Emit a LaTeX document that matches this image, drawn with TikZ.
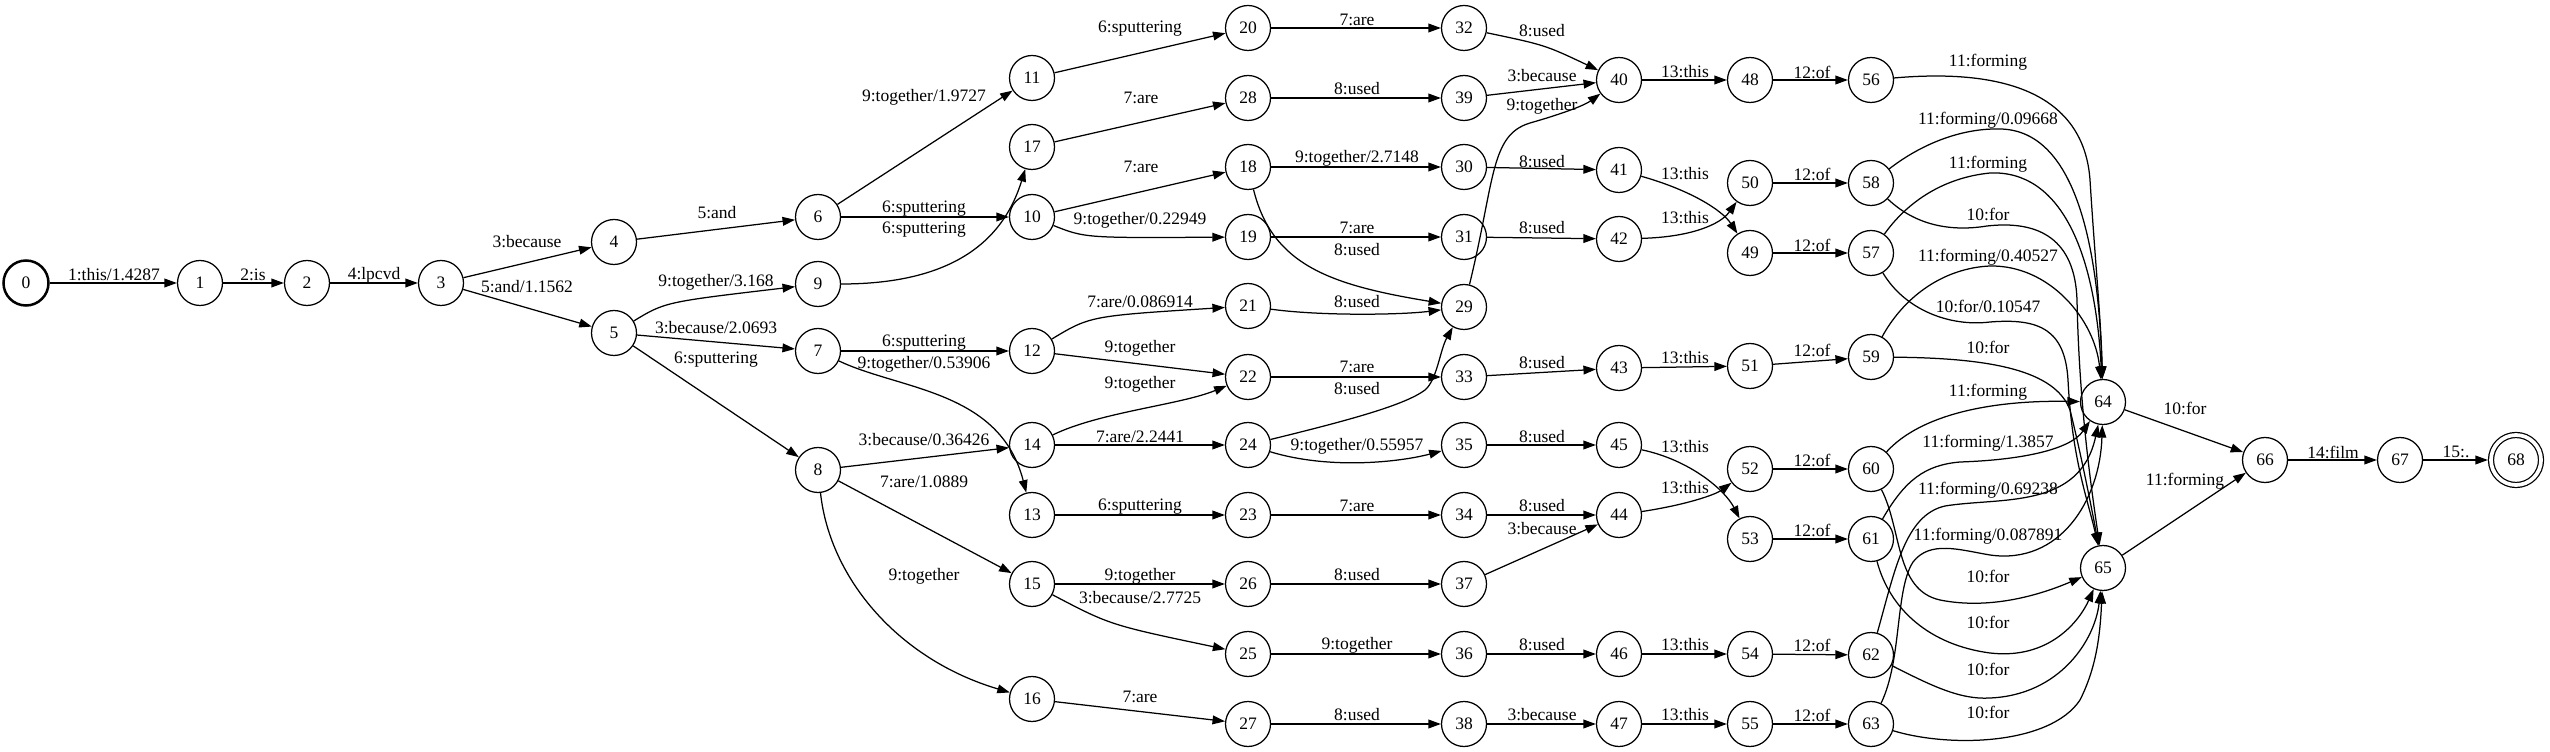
\documentclass[tikz,border=0pt]{standalone}
\usepackage{fontspec}
\setmainfont{Liberation Serif}
\usetikzlibrary{arrows.meta}
\begin{document}
\begin{tikzpicture}[x=0.8pt,y=-0.8pt,
  st/.style={circle,draw,line width=1pt,minimum size=36pt,inner sep=0pt,font=\fontsize{14}{16}\selectfont},
  lbl/.style={inner sep=0pt,font=\fontsize{14}{16}\selectfont},
  arr/.style={line width=1pt,-{Triangle[length=10pt,width=7pt]}}]
\useasboundingbox (0,0) rectangle (2550,752);
% states
\node[st,line width=2pt] (n0) at (26,283) {0};
\node[st] (n1) at (200,283) {1};
\node[st] (n2) at (307,283) {2};
\node[st] (n3) at (441,283) {3};
\node[st] (n4) at (614,242) {4};
\node[st] (n5) at (614,333) {5};
\node[st] (n6) at (818,217) {6};
\node[st] (n9) at (818,284) {9};
\node[st] (n7) at (818,351) {7};
\node[st] (n8) at (818,470) {8};
\node[st] (n11) at (1032,78) {11};
\node[st] (n17) at (1032,147) {17};
\node[st] (n10) at (1032,217) {10};
\node[st] (n12) at (1032,351) {12};
\node[st] (n14) at (1032,445) {14};
\node[st] (n13) at (1032,515) {13};
\node[st] (n15) at (1032,584) {15};
\node[st] (n16) at (1032,699) {16};
\node[st] (n20) at (1248,28) {20};
\node[st] (n28) at (1248,98) {28};
\node[st] (n18) at (1248,167) {18};
\node[st] (n19) at (1248,237) {19};
\node[st] (n21) at (1248,306) {21};
\node[st] (n22) at (1248,377) {22};
\node[st] (n24) at (1248,445) {24};
\node[st] (n23) at (1248,515) {23};
\node[st] (n26) at (1248,584) {26};
\node[st] (n25) at (1248,654) {25};
\node[st] (n27) at (1248,724) {27};
\node[st] (n32) at (1464,28) {32};
\node[st] (n39) at (1464,98) {39};
\node[st] (n30) at (1464,167) {30};
\node[st] (n31) at (1464,237) {31};
\node[st] (n29) at (1464,307) {29};
\node[st] (n33) at (1464,377) {33};
\node[st] (n35) at (1464,445) {35};
\node[st] (n34) at (1464,515) {34};
\node[st] (n37) at (1464,584) {37};
\node[st] (n36) at (1464,654) {36};
\node[st] (n38) at (1464,724) {38};
\node[st] (n40) at (1619,80) {40};
\node[st] (n41) at (1619,170) {41};
\node[st] (n42) at (1619,239) {42};
\node[st] (n43) at (1619,368) {43};
\node[st] (n45) at (1619,445) {45};
\node[st] (n44) at (1619,515) {44};
\node[st] (n46) at (1619,654) {46};
\node[st] (n47) at (1619,724) {47};
\node[st] (n48) at (1750,80) {48};
\node[st] (n50) at (1750,183) {50};
\node[st] (n49) at (1750,253) {49};
\node[st] (n51) at (1750,366) {51};
\node[st] (n52) at (1750,469) {52};
\node[st] (n53) at (1750,539) {53};
\node[st] (n54) at (1750,654) {54};
\node[st] (n55) at (1750,724) {55};
\node[st] (n56) at (1871,80) {56};
\node[st] (n58) at (1871,183) {58};
\node[st] (n57) at (1871,253) {57};
\node[st] (n59) at (1871,357) {59};
\node[st] (n60) at (1871,469) {60};
\node[st] (n61) at (1871,539) {61};
\node[st] (n62) at (1871,655) {62};
\node[st] (n63) at (1871,724) {63};
\node[st] (n64) at (2103,402) {64};
\node[st] (n65) at (2103,568) {65};
\node[st] (n66) at (2265,460) {66};
\node[st] (n67) at (2400,460) {67};
\node[st,minimum size=40pt,double,double distance=3pt,outer sep=2.5pt] (n68) at (2516,460) {68};
% straight arcs
\foreach \a/\b in {0/1,1/2,2/3,3/4,3/5,4/6,5/7,5/8,6/11,6/10,10/18,11/20,17/28,7/12,12/22,8/14,8/15,14/24,13/23,15/26,16/27,
  20/32,28/39,18/30,19/31,22/33,23/34,26/37,25/36,27/38,
  39/40,30/41,31/42,33/43,35/45,34/44,37/44,36/46,38/47,
  40/48,43/51,46/54,47/55,48/56,50/58,49/57,51/59,52/60,53/61,54/62,55/63,
  64/66,65/66,66/67,67/68}
  {\draw[arr] (n\a) -- (n\b);}
% curved arcs
\draw[arr] (n5) .. controls (665,302) .. (n9);
\draw[arr] (n9) .. controls (960,284) and (1005,235) .. (n17);
\draw[arr] (n10) .. controls (1085,238) .. (n19);
\draw[arr] (n7) .. controls (900,390) and (1000,390) .. (n13);
\draw[arr] (n12) .. controls (1090,316) .. (n21);
\draw[arr] (n8) .. controls (830,580) and (900,660) .. (n16);
\draw[arr] (n14) .. controls (1100,412) and (1180,405) .. (n22);
\draw[arr] (n15) .. controls (1110,625) .. (n25);
\draw[arr] (n18) .. controls (1272,265) and (1330,285) .. (n29);
\draw[arr] (n21) .. controls (1320,316) and (1400,315) .. (n29);
\draw[arr] (n24) .. controls (1350,420) and (1405,405) .. (1425,390) .. controls (1437,380) and (1440,350) .. (n29);
\draw[arr] (n24) .. controls (1330,470) and (1400,462) .. (n35);
\draw[arr] (n32) .. controls (1545,45) .. (n40);
\draw[arr] (n29) .. controls (1495,180) and (1490,135) .. (1530,123) .. controls (1565,113) and (1585,105) .. (n40);
\draw[arr] (n41) .. controls (1690,190) and (1722,210) .. (n49);
\draw[arr] (n42) .. controls (1690,237) and (1720,225) .. (n50);
\draw[arr] (n45) .. controls (1690,460) and (1725,490) .. (n53);
\draw[arr] (n44) .. controls (1685,505) and (1715,495) .. (n52);
\draw[arr] (n56) .. controls (2030,66) and (2085,110) .. (2090,180) .. controls (2095,260) and (2101,320) .. (n64);
\draw[arr] (n58) .. controls (1920,145) and (1960,128) .. (2000,129) .. controls (2070,130) and (2098,230) .. (n64);
\draw[arr] (n57) .. controls (1905,205) and (1940,178) .. (1990,173) .. controls (2060,170) and (2095,250) .. (n64);
\draw[arr] (n58) .. controls (1915,225) and (1950,232) .. (1987,226) .. controls (2040,220) and (2075,240) .. (2077,300) .. controls (2079,400) and (2090,480) .. (n65);
\draw[arr] (n59) .. controls (1905,295) and (1945,268) .. (1990,266) .. controls (2050,265) and (2095,320) .. (n64);
\draw[arr] (n57) .. controls (1905,310) and (1950,327) .. (1990,322) .. controls (2040,318) and (2065,330) .. (2068,380) .. controls (2072,460) and (2088,500) .. (n65);
\draw[arr] (n59) .. controls (1990,358) and (2055,370) .. (2070,410) .. controls (2080,450) and (2090,500) .. (n65);
\draw[arr] (n60) .. controls (1920,415) and (1990,400) .. (n64);
\draw[arr] (n61) .. controls (1905,480) and (1925,465) .. (1960,462) .. controls (2020,460) and (2070,450) .. (n64);
\draw[arr] (n62) .. controls (1895,570) and (1905,515) .. (1945,506) .. controls (2000,497) and (2080,510) .. (n64);
\draw[arr] (n63) .. controls (1902,660) and (1895,590) .. (1913,562) .. controls (1930,540) and (1960,550) .. (1990,555) .. controls (2060,565) and (2100,500) .. (n64);
\draw[arr] (n60) .. controls (1902,530) and (1895,590) .. (1940,600) .. controls (1990,610) and (2040,595) .. (n65);
\draw[arr] (n61) .. controls (1890,610) and (1930,645) .. (1990,653) .. controls (2050,660) and (2080,620) .. (n65);
\draw[arr] (n62) .. controls (1930,685) and (1960,700) .. (1990,698) .. controls (2060,695) and (2095,640) .. (n65);
\draw[arr] (n63) .. controls (1950,748) and (2050,745) .. (2080,700) .. controls (2095,670) and (2100,640) .. (n65);
% labels
\node[lbl] (a1) at (114,275) {1:this/1.4287};
\node[lbl] (a2) at (253,275) {2:is};
\node[lbl] (a3) at (374,275) {4:lpcvd};
\node[lbl] (a4) at (527,242) {3:because};
\node[lbl] (a5) at (527,287) {5:and/1.1562};
\node[lbl] (a6) at (717,213) {5:and};
\node[lbl] (a7) at (716,282) {9:together/3.168};
\node[lbl] (a8) at (716,328) {3:because/2.0693};
\node[lbl] (a9) at (716,360) {6:sputtering};
\node[lbl] (b1) at (924,97) {9:together/1.9727};
\node[lbl] (b2) at (924,209) {6:sputtering};
\node[lbl] (b3) at (924,230) {6:sputtering};
\node[lbl] (b4) at (924,343) {6:sputtering};
\node[lbl] (b5) at (924,364) {9:together/0.53906};
\node[lbl] (b6) at (924,440) {3:because/0.36426};
\node[lbl] (b7) at (924,482) {7:are/1.0889};
\node[lbl] (b8) at (924,576) {9:together};
\node[lbl] (c1) at (1140,29) {6:sputtering};
\node[lbl] (c2) at (1141,98) {7:are};
\node[lbl] (c3) at (1141,167) {7:are};
\node[lbl] (c4) at (1140,220) {9:together/0.22949};
\node[lbl] (c5) at (1140,302) {7:are/0.086914};
\node[lbl] (c6) at (1140,348) {9:together};
\node[lbl] (c7) at (1140,384) {9:together};
\node[lbl] (c8) at (1140,437) {7:are/2.2441};
\node[lbl] (c9) at (1140,507) {6:sputtering};
\node[lbl] (c10) at (1140,576) {9:together};
\node[lbl] (c11) at (1140,598) {3:because/2.7725};
\node[lbl] (c12) at (1140,697) {7:are};
\node[lbl] (d1) at (1357,20) {7:are};
\node[lbl] (d2) at (1357,89) {8:used};
\node[lbl] (d3) at (1357,158) {9:together/2.7148};
\node[lbl] (d4) at (1357,228) {7:are};
\node[lbl] (d5) at (1357,250) {8:used};
\node[lbl] (d6) at (1357,302) {8:used};
\node[lbl] (d7) at (1357,367) {7:are};
\node[lbl] (d8) at (1357,389) {8:used};
\node[lbl] (d9) at (1357,446) {9:together/0.55957};
\node[lbl] (d10) at (1357,506) {7:are};
\node[lbl] (d11) at (1357,575) {8:used};
\node[lbl] (d12) at (1357,645) {9:together};
\node[lbl] (d13) at (1357,715) {8:used};
\node[lbl] (e1) at (1542,31) {8:used};
\node[lbl] (e2) at (1542,76) {3:because};
\node[lbl] (e3) at (1542,106) {9:together};
\node[lbl] (e4) at (1542,162) {8:used};
\node[lbl] (e5) at (1542,228) {8:used};
\node[lbl] (e6) at (1542,363) {8:used};
\node[lbl] (e7) at (1542,437) {8:used};
\node[lbl] (e8) at (1542,506) {8:used};
\node[lbl] (e9) at (1542,529) {3:because};
\node[lbl] (e10) at (1542,645) {8:used};
\node[lbl] (e11) at (1542,715) {3:because};
\node[lbl] (f1) at (1685,72) {13:this};
\node[lbl] (f2) at (1685,174) {13:this};
\node[lbl] (f3) at (1685,218) {13:this};
\node[lbl] (f4) at (1685,358) {13:this};
\node[lbl] (f5) at (1685,447) {13:this};
\node[lbl] (f6) at (1685,488) {13:this};
\node[lbl] (f7) at (1685,645) {13:this};
\node[lbl] (f8) at (1685,715) {13:this};
\node[lbl] (g1) at (1812,72) {12:of};
\node[lbl] (g2) at (1812,174) {12:of};
\node[lbl] (g3) at (1812,245) {12:of};
\node[lbl] (g4) at (1812,350) {12:of};
\node[lbl] (g5) at (1812,460) {12:of};
\node[lbl] (g6) at (1812,530) {12:of};
\node[lbl] (g7) at (1812,645) {12:of};
\node[lbl] (g8) at (1812,715) {12:of};
\node[lbl] (h1) at (1988,62) {11:forming};
\node[lbl] (h2) at (1988,120) {11:forming/0.09668};
\node[lbl] (h3) at (1988,164) {11:forming};
\node[lbl] (h4) at (1988,214) {10:for};
\node[lbl] (h5) at (1988,257) {11:forming/0.40527};
\node[lbl] (h6) at (1988,306) {10:for/0.10547};
\node[lbl] (h7) at (1988,347) {10:for};
\node[lbl] (h8) at (1988,392) {11:forming};
\node[lbl] (h9) at (1988,443) {11:forming/1.3857};
\node[lbl] (h10) at (1988,490) {11:forming/0.69238};
\node[lbl] (h11) at (1988,536) {11:forming/0.087891};
\node[lbl] (h12) at (1988,576) {10:for};
\node[lbl] (h13) at (1988,622) {10:for};
\node[lbl] (h14) at (1988,669) {10:for};
\node[lbl] (h15) at (1988,712) {10:for};
\node[lbl] (k1) at (2185,408) {10:for};
\node[lbl] (k2) at (2185,481) {11:forming};
\node[lbl] (k3) at (2333,452) {14:film};
\node[lbl] (k4) at (2456,452) {15:.};
\end{tikzpicture}
\end{document}
